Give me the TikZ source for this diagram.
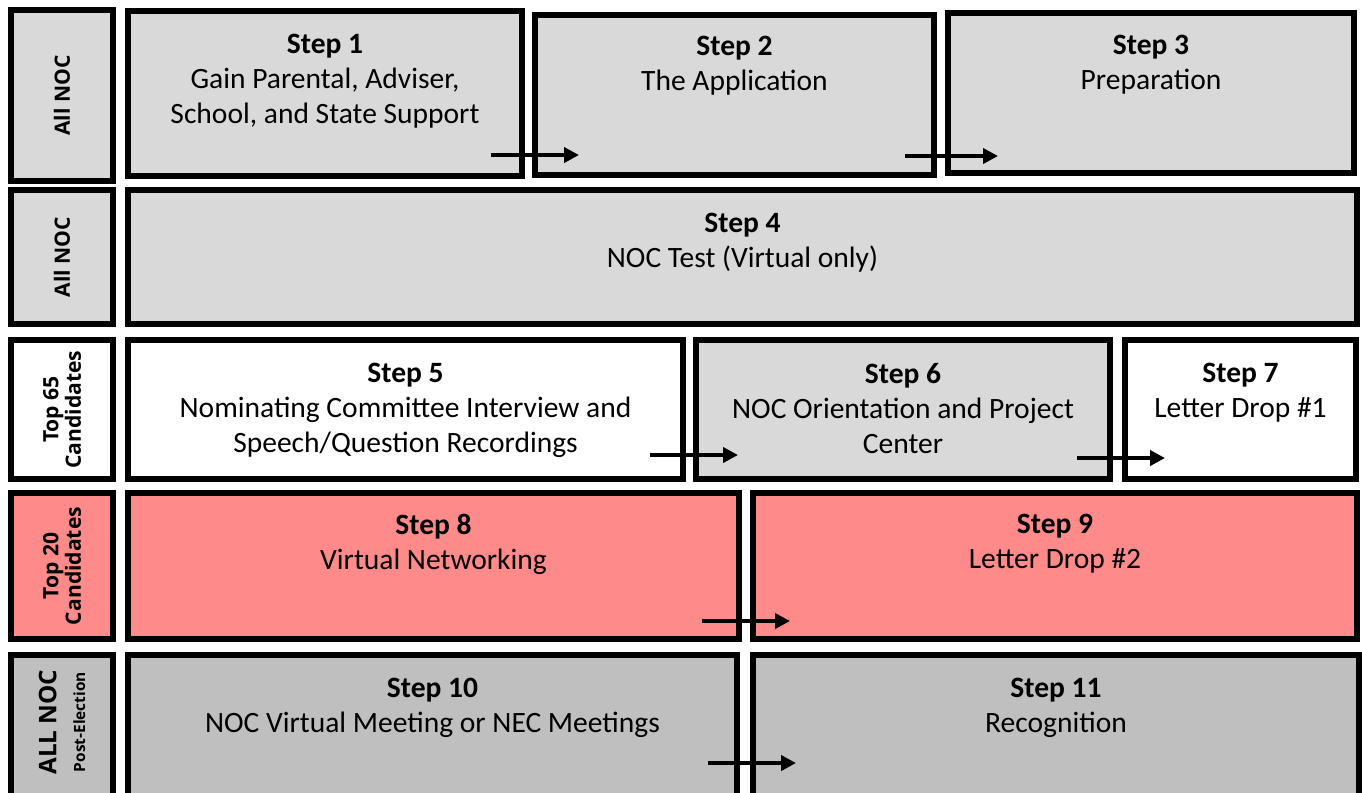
\documentclass[tikz,border=0pt]{standalone}
\usepackage{fontspec}
\setmainfont{Carlito}
\newfontfamily\tagfont{Open Sans}
\usepackage{xcolor}
\usetikzlibrary{arrows.meta, fit, calc}

\definecolor{lightbox}{HTML}{D9D9D9}
\definecolor{pinkbox}{HTML}{FF8A8A}
\definecolor{darkbox}{HTML}{BFBFBF}

\tikzset{
    stepbox/.style={draw=black, line width=0.65mm, inner sep=0pt, outer sep=0pt},
    steptext/.style={anchor=north, align=center, inner sep=0pt, font=\fontsize{8.4}{9.96}\selectfont},
    rowtag/.style={rotate=90, align=center, inner sep=0pt, font=\tagfont\bfseries\fontsize{6}{6.4}\selectfont},
    flow/.style={line width=0.4mm, -{Triangle[length=1.5mm, width=1.5mm]}}
}

\begin{document}
\begin{tikzpicture}[x=0.1mm, y=-0.1mm]
                \useasboundingbox (0,0) rectangle (1362,792);
                \clip (0,0) rectangle (1362,792);
                % row tags on the left
                \foreach \nm/\ya/\yb/\col in {l1/10/181/lightbox, l2/190/324/lightbox, l3/340/479/white, l4/493/639/pinkbox, l5/655/797/darkbox} {
                    \node[stepbox, fill=\col, fit={(11,\ya) (113,\yb)}] (\nm) {};
                }
                % step boxes
                \foreach \nm/\xa/\ya/\xb/\yb/\col in {s1/128/11/522/176/lightbox, s2/535/15/934/175/lightbox, s3/948/13/1354/173/lightbox, s4/128/190/1357/324/lightbox, s5/128/340/683/479/white, s6/696/340/1110/479/lightbox, s7/1125/340/1356/479/white, s8/128/493/739/639/pinkbox, s9/753/493/1357/639/pinkbox, s10/128/655/737/797/darkbox, s11/753/655/1359/797/darkbox} {
                    \node[stepbox, fill=\col, fit={(\xa,\ya) (\xb,\yb)}] (\nm) {};
                }
                % step texts
                \node[steptext] (s1t) at ([yshift=-6.3pt]s1.north) {\textbf{Step 1}\\Gain Parental, Adviser,\\School, and State Support};
                \node[steptext] (s2t) at ([yshift=-5.9pt]s2.north) {\textbf{Step 2}\\The Application};
                \node[steptext] (s3t) at ([yshift=-6.1pt]s3.north) {\textbf{Step 3}\\Preparation};
                \node[steptext] (s4t) at ([yshift=-6.3pt]s4.north) {\textbf{Step 4}\\NOC Test (Virtual only)};
                \node[steptext] (s5t) at ([yshift=-6.3pt]s5.north) {\textbf{Step 5}\\Nominating Committee Interview and\\Speech/Question Recordings};
                \node[steptext] (s6t) at ([yshift=-6.3pt]s6.north) {\textbf{Step 6}\\NOC Orientation and Project\\Center};
                \node[steptext] (s7t) at ([yshift=-6.3pt]s7.north) {\textbf{Step 7}\\Letter Drop \#1};
                \node[steptext] (s8t) at ([yshift=-5.9pt]s8.north) {\textbf{Step 8}\\Virtual Networking};
                \node[steptext] (s9t) at ([yshift=-5.9pt]s9.north) {\textbf{Step 9}\\Letter Drop \#2};
                \node[steptext] (s10t) at ([yshift=-6.3pt]s10.north) {\textbf{Step 10}\\NOC Virtual Meeting or NEC Meetings};
                \node[steptext] (s11t) at ([yshift=-6.3pt]s11.north) {\textbf{Step 11}\\Recognition};
                % row tag texts
                \node[rowtag] (t1) at (l1.center) {All NOC};
                \node[rowtag] (t2) at (l2.center) {All NOC};
                \node[rowtag] (t3) at (l3.center) {Top 65\\Candidates};
                \node[rowtag] (t4) at (l4.center) {Top 20\\Candidates};
                \node[rowtag, font=\tagfont\bfseries\fontsize{6.9}{8.2}\selectfont] (t5) at ($(l5.center)+(0,-4)$) {ALL NOC\\{\fontsize{4.4}{5}\selectfont Post-Election}};
                % arrows between steps
                \draw[flow] ($(s1.south east)+(-31,-21)$) -- ($(s2.south west)+(44,-20)$);
                \draw[flow] ($(s2.south east)+(-29,-19)$) -- ($(s3.south west)+(50,-17)$);
                \draw[flow] ($(s5.south east)+(-33,-24)$) -- ($(s6.south west)+(42,-24)$);
                \draw[flow] ($(s6.south east)+(-33,-21)$) -- ($(s7.south west)+(40,-21)$);
                \draw[flow] ($(s8.south east)+(-37,-18)$) -- ($(s9.south west)+(37,-18)$);
                \draw[flow] ($(s10.north east)+(-29,108)$) -- ($(s11.north west)+(43,108)$);
            \end{tikzpicture}
\end{document}
